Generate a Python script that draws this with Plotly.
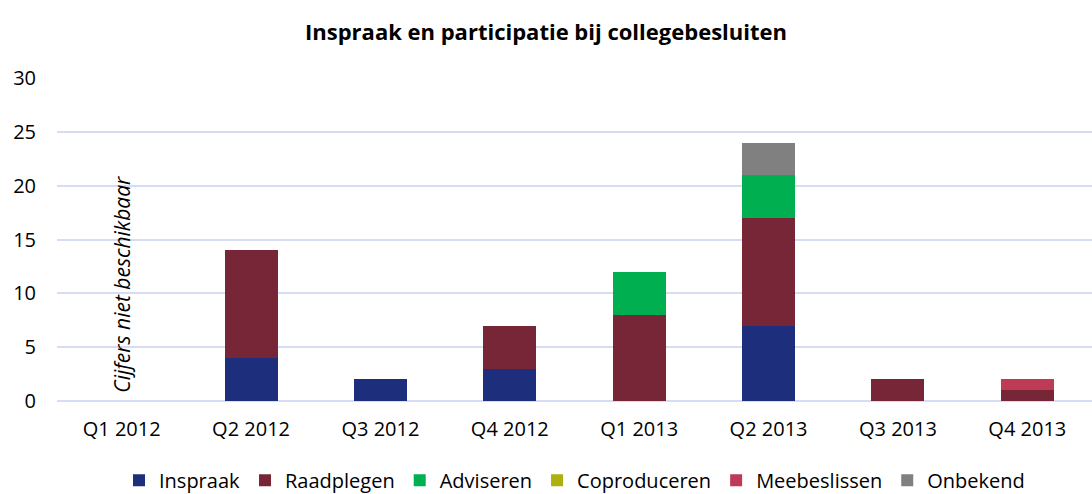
import plotly.graph_objects as go

quarters = ["Q1 2012", "Q2 2012", "Q3 2012", "Q4 2012",
            "Q1 2013", "Q2 2013", "Q3 2013", "Q4 2013"]

inspraak = [0, 4, 2, 3, 0, 7, 0, 0]
raadplegen = [0, 10, 0, 4, 8, 10, 2, 1]
adviseren = [0, 0, 0, 0, 4, 4, 0, 0]
coproduceren = [0, 0, 0, 0, 0, 0, 0, 0]
meebeslissen = [0, 0, 0, 0, 0, 0, 0, 1]
onbekend = [0, 0, 0, 0, 0, 3, 0, 0]

series = [
    ("Inspraak", inspraak, "#1C2E7C"),
    ("Raadplegen", raadplegen, "#772637"),
    ("Adviseren", adviseren, "#00B050"),
    ("Coproduceren", coproduceren, "#ADB010"),
    ("Meebeslissen", meebeslissen, "#BE3B55"),
    ("Onbekend", onbekend, "#808080"),
]

fig = go.Figure()
for name, vals, col in series:
    fig.add_trace(go.Bar(x=quarters, y=vals, name=name,
                         marker=dict(color=col, line=dict(width=0))))

font = "Open Sans, Liberation Sans, sans-serif"

fig.add_annotation(x="Q1 2012", y=30 * (401 - 284) / 323, text="<i>Cijfers niet beschikbaar</i>",
                   textangle=-90, showarrow=False,
                   font=dict(family=font, size=21, color="#000000"))

fig.update_layout(
    barmode="stack",
    bargap=0.59,
    width=1092, height=494,
    paper_bgcolor="white", plot_bgcolor="white",
    margin=dict(l=57, r=0, t=78, b=93, autoexpand=False),
    title=dict(text="<b>Inspraak en participatie bij collegebesluiten</b>",
               x=0.5, xanchor="center", y=1 - 32 / 494, yanchor="middle",
               font=dict(family=font, size=22, color="#000000")),
    font=dict(family=font, size=20, color="#000000"),
    legend=dict(orientation="h", x=0.5, xanchor="center", y=-0.245, yanchor="middle",
                traceorder="normal", font=dict(size=20), itemwidth=30),
    xaxis=dict(showgrid=False, ticks="", tickfont=dict(size=20), ticklabelstandoff=14),
    yaxis=dict(range=[0, 30], dtick=5, showgrid=True, gridcolor="#D5DCF3",
               gridwidth=2, zeroline=True, zerolinecolor="#D5DCF3", zerolinewidth=2,
               ticks="", ticklabelstandoff=20, tickfont=dict(size=20)),
)

fig.write_html("out.html", config={"displayModeBar": False},
               post_script="document.body.style.margin='0';")
